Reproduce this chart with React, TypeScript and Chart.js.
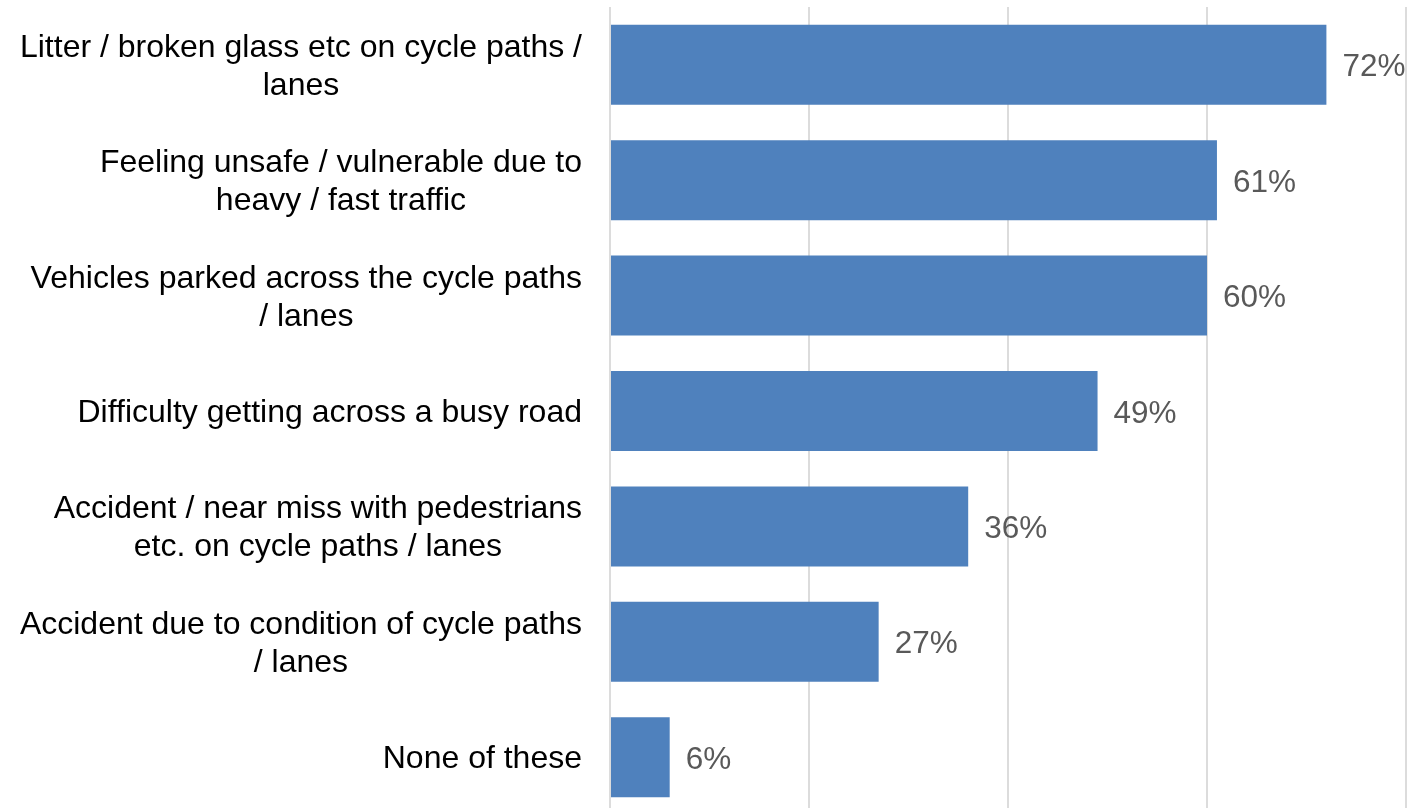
import React, { useEffect, useRef } from "react";
import { Chart, registerables } from "chart.js";

Chart.register(...registerables);

const categories: string[][] = [
  ["Litter / broken glass etc on cycle paths /", "lanes"],
  ["Feeling unsafe / vulnerable due to", "heavy / fast traffic"],
  ["Vehicles parked across the cycle paths", "/ lanes"],
  ["Difficulty getting across a busy road"],
  ["Accident / near miss with pedestrians", "etc. on cycle paths / lanes"],
  ["Accident due to condition of cycle paths", "/ lanes"],
  ["None of these"],
];
const values: number[] = [72, 61, 60, 49, 36, 27, 6];
const xMin = 0;
const xMax = 80;
const xStep = 20;

const CAT_FONT = "32px 'Liberation Sans', Arial, sans-serif";
const VAL_FONT = "31.5px 'Liberation Sans', Arial, sans-serif";

const labelPlugin = {
  id: "customLabels",
  afterDraw(chart: any) {
    const ctx = chart.ctx;
    const yScale = chart.scales.y;
    const xScale = chart.scales.x;
    ctx.save();
    ctx.font = CAT_FONT;
    ctx.textBaseline = "alphabetic";
    // category labels: block right-aligned, lines centered within block
    const rightEdge = chart.chartArea.left - 28;
    const lineH = 38;
    categories.forEach((lines, i) => {
      const yc = yScale.getPixelForValue(i);
      const maxW = Math.max(...lines.map((l) => ctx.measureText(l).width));
      const cx = rightEdge - maxW / 2;
      ctx.fillStyle = "#000000";
      ctx.textAlign = "center";
      lines.forEach((l, k) => {
        const y = yc + 11 + (k - (lines.length - 1) / 2) * lineH;
        ctx.fillText(l, cx, y);
      });
    });
    // data labels
    ctx.font = VAL_FONT;
    ctx.fillStyle = "#595959";
    ctx.textAlign = "left";
    values.forEach((v, i) => {
      const x = xScale.getPixelForValue(v) + 16;
      const y = yScale.getPixelForValue(i) + 11.5;
      ctx.fillText(`${v}%`, x, y);
    });
    ctx.restore();
  },
};

export default function App() {
  const ref = useRef<HTMLCanvasElement | null>(null);
  useEffect(() => {
    if (!ref.current) return;
    const chart = new Chart(ref.current, {
      type: "bar",
      data: {
        labels: categories.map((c) => c.join(" ")),
        datasets: [
          {
            data: values,
            backgroundColor: "#4F81BD",
            borderWidth: 0,
            categoryPercentage: 1,
            barPercentage: 0.693,
          },
        ],
      },
      options: {
        indexAxis: "y",
        responsive: false,
        animation: false,
        layout: { padding: { left: 610, right: 2, top: 7, bottom: 0 } },
        plugins: {
          legend: { display: false },
          tooltip: { enabled: false },
        },
        scales: {
          x: {
            min: xMin,
            max: xMax,
            ticks: { display: false, stepSize: xStep },
            grid: { color: "#dcdcdc", lineWidth: 2, drawTicks: false },
            border: { display: false },
          },
          y: {
            display: false,
          },
        },
      },
      plugins: [labelPlugin],
    });
    return () => chart.destroy();
  }, []);
  return (
    <div style={{ position: "fixed", left: 0, top: 0, width: 1408, height: 815, background: "#fff" }}>
      <canvas ref={ref} width={1408} height={815} />
    </div>
  );
}
